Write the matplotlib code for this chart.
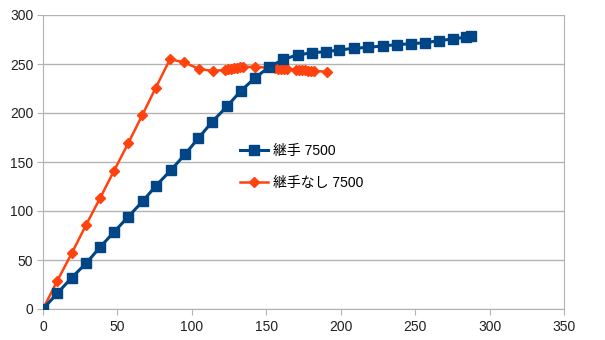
import matplotlib.pyplot as plt

plt.rcParams['font.family'] = ['Liberation Sans', 'Noto Sans CJK JP', 'DejaVu Sans']

# series data
blue_x = [0, 9.6, 19.3, 28.9, 38.3, 47.7, 57.3, 67, 75.9, 86, 95.5, 104.3, 113.7,
          123.8, 133, 142.6, 151.6, 161.4, 171, 180.9, 190, 199, 208.9, 218.5,
          228.1, 237.5, 247.1, 256.5, 266, 275.2, 284.5, 287.5]
blue_y = [0, 16, 32, 46.6, 63, 78.6, 94.2, 110, 125.8, 141.8, 158, 174.2, 191.1,
          207.1, 222.8, 236, 246.6, 254.8, 259.2, 261.5, 262.6, 264.3, 266, 267,
          268.4, 269.7, 270.7, 271.7, 273.8, 275.5, 277.5, 279]

orange_x = [0, 9.5, 19.3, 28.9, 38.3, 47.7, 57.2, 66.6, 75.8, 85.3, 94.9, 104.8,
            114.2, 122.5, 124.5, 126.5, 128.5, 130.5, 132.5, 134.5, 142.4, 156,
            158, 160, 162, 164, 170, 172, 174, 176, 178, 180, 182, 190.5]
orange_y = [0, 28.5, 56.8, 85.7, 113, 141, 169, 197.5, 226, 254.8, 251.7, 244.9,
            242.9, 244, 244.5, 245, 245.5, 246, 246.5, 247, 247.2, 245.5, 245,
            245, 244.8, 244.5, 244, 243.8, 243.6, 243.5, 243.3, 243.2, 243, 242.1]

labels = ['継手 7500', '継手なし 7500']
x_ticks = [0, 50, 100, 150, 200, 250, 300, 350]
y_ticks = [0, 50, 100, 150, 200, 250, 300]

fig = plt.figure(figsize=(6.05, 3.4), dpi=100)
ax = fig.add_axes([43 / 605, 31 / 340, 521 / 605, 294 / 340])

grid_c = '#b3b3b3'
ax.plot(blue_x, blue_y, color='#004586', lw=2.2, marker='s', ms=7.2,
        markeredgecolor='#004586', label=labels[0], zorder=3)
ax.plot(orange_x, orange_y, color='#ff420e', lw=1.8, marker='D', ms=5,
        markeredgecolor='#ff420e', label=labels[1], zorder=2)

ax.set_xlim(0, 350)
ax.set_ylim(0, 300)
ax.set_xticks(x_ticks)
ax.set_yticks(y_ticks)
ax.yaxis.grid(True, color=grid_c, lw=1)
ax.set_axisbelow(True)
for side in ['left', 'bottom', 'right']:
    ax.spines[side].set_color(grid_c)
ax.spines['top'].set_visible(False)
ax.tick_params(colors=grid_c, labelcolor='#222222', labelsize=10, length=4)
ax.tick_params(axis='x', pad=4)
ax.tick_params(axis='y', pad=3)

ax.legend(loc='upper left', bbox_to_anchor=(240 / 605, 1 - 144 / 340),
          bbox_transform=fig.transFigure, frameon=False, fontsize=10,
          labelspacing=1.3, handlelength=2.0, handletextpad=0.35,
          borderpad=0, borderaxespad=0)

fig.savefig('out.png', dpi=100)
